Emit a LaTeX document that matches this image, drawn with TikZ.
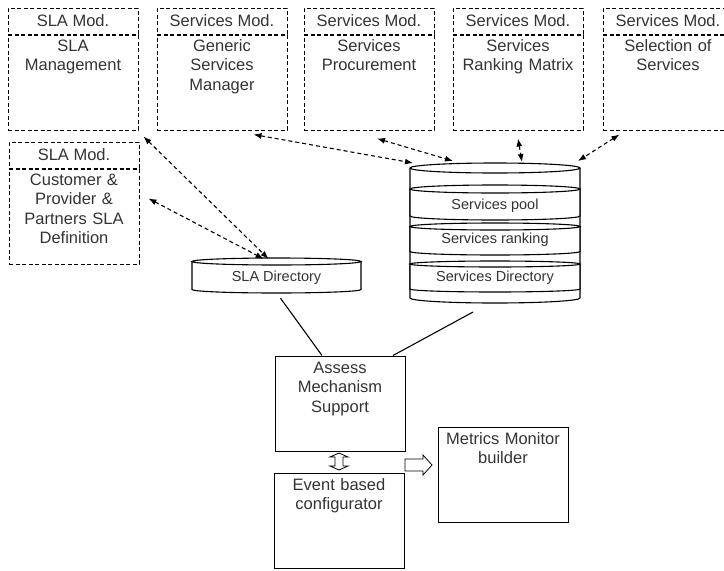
\documentclass[tikz,border=0pt]{standalone}
\usepackage{fontspec}
\setmainfont{Liberation Sans}
\usetikzlibrary{arrows.meta,positioning}

\tikzset{
	modhead/.style={draw,dash pattern=on 4pt off 2.5pt,line width=1pt,
		minimum width=130pt,minimum height=26pt,inner sep=0pt},
	modbody/.style={draw,dash pattern=on 4pt off 2.5pt,line width=1pt,
		text width=124pt,inner sep=3pt,align=center,
		text height=13pt,text depth=76pt},
	plainbox/.style={draw,line width=1pt,text width=124pt,inner sep=3pt,
		align=center,text height=14pt,text depth=75pt},
	dbtext/.style={font=\fontsize{14.5}{17}\selectfont},
	cyl/.style={draw,line width=1.1pt,fill=white},
}

\begin{document}
\begin{tikzpicture}[x=1pt,y=-1pt,font=\fontsize{16.5}{19.5}\selectfont,text=black!80]
	\useasboundingbox (0,0) rectangle (724,571);

	% module boxes
	\node[modhead] (slahd) at (73,21) {SLA Mod.};
	\node[modbody,below=0pt of slahd] (slamgmt) {SLA\\Management};
	\node[modhead] (genhd) at (222,21) {Services Mod.};
	\node[modbody,below=0pt of genhd] (generic) {Generic\\Services\\Manager};
	\node[modhead] (prochd) at (369,21) {Services Mod.};
	\node[modbody,below=0pt of prochd] (procure) {Services\\Procurement};
	\node[modhead] (rankhd) at (518,21) {Services Mod.};
	\node[modbody,below=0pt of rankhd] (rankmat) {Services\\Ranking Matrix};
	\node[modhead] (selhd) at (668,21) {Services Mod.};
	\node[modbody,below=0pt of selhd] (select) {Selection of\\Services};
	\node[modhead] (custhd) at (74,155) {SLA Mod.};
	\node[modbody,below=0pt of custhd] (custdef) {Customer \&\\Provider \&\\Partners SLA\\Definition};

	% SLA store
	\draw[cyl] (192,261.5) -- (192,289.5) arc[start angle=180,end angle=360,x radius=84.5pt,y radius=3.5pt] -- (361,261.5);
	\draw[cyl] (276.5,261.5) ellipse[x radius=84.5pt,y radius=3.5pt];
	\node[dbtext,minimum width=169pt,minimum height=30pt,inner sep=0pt] (sladir) at (276.5,278) {SLA Directory};

	% services store
	\draw[cyl] (410,168) -- (410,298) arc[start angle=180,end angle=360,x radius=85pt,y radius=5pt] -- (580,168);
	\draw[cyl] (495,168) ellipse[x radius=85pt,y radius=5pt];
	\foreach \t/\b/\r in {189/216/4,226.5/251.5/3.5,264/289/3} {
		\draw[cyl] (410,\t) -- (410,\b) arc[start angle=180,end angle=360,x radius=85pt,y radius=\r pt] -- (580,\t);
		\draw[cyl] (495,\t) ellipse[x radius=85pt,y radius=\r pt];
	}
	\coordinate (srvtop) at (495,163);
	\coordinate (srvbot) at (495,303);
	\node[dbtext] (pool) at (495,206) {Services pool};
	\node[dbtext] (ranking) at (495,240) {Services ranking};
	\node[dbtext] (srvdir) at (495,278) {Services Directory};

	% lower blocks
	\node[plainbox] (assess) at (340,403.5) {Assess\\Mechanism\\Support};
	\node[plainbox] (event) at (339,520.5) {Event based\\configurator};
	\node[plainbox] (metrics) at (503,474.5) {Metrics Monitor\\builder};

	\begin{scope}[>={Latex[length=8pt,width=6pt]},
		every path/.style={draw=black,line width=1.1pt}]
		\draw[<->,dash pattern=on 4pt off 3pt] ([shift={(5pt,-6pt)}]slamgmt.south east) -- ([shift={(-8pt,4pt)}]sladir.north);
		\draw[<->,dash pattern=on 4pt off 3pt] ([shift={(9pt,-30pt)}]custdef.north east) -- ([shift={(-13pt,4pt)}]sladir.north);
		\draw[<->,dash pattern=on 4pt off 3pt] ([shift={(-34pt,-4pt)}]generic.south east) -- ([xshift=-82pt]srvtop);
		\draw[<->,dash pattern=on 4pt off 3pt] ([shift={(8pt,-8pt)}]procure.south) -- ([shift={(-42pt,2pt)}]srvtop);
		\draw[<->,dash pattern=on 4pt off 3pt] ([yshift=-8pt]rankmat.south) -- ([shift={(27pt,1pt)}]srvtop);
		\draw[<->,dash pattern=on 4pt off 3pt] ([shift={(17pt,-4pt)}]select.south west) -- ([shift={(83pt,2pt)}]srvtop);

		\draw ([shift={(4pt,-5pt)}]sladir.south) -- ([xshift=-18pt]assess.north);
		\draw ([shift={(-22pt,-9pt)}]srvbot) -- ([xshift=53pt]assess.north);
	\end{scope}

	% exchange between assess and event, output to metrics
	\draw[line width=0.8pt,fill=white] (330,457) -- (339,453) -- (348,457) -- (343,457) -- (343,466)
		-- (348,466) -- (339,470) -- (330,466) -- (335,466) -- (335,457) -- cycle;
	\draw[line width=0.8pt,fill=white] (405,459) -- (423,459) -- (423,455) -- (432,465)
		-- (423,475) -- (423,471) -- (405,471) -- cycle;
\end{tikzpicture}
\end{document}
